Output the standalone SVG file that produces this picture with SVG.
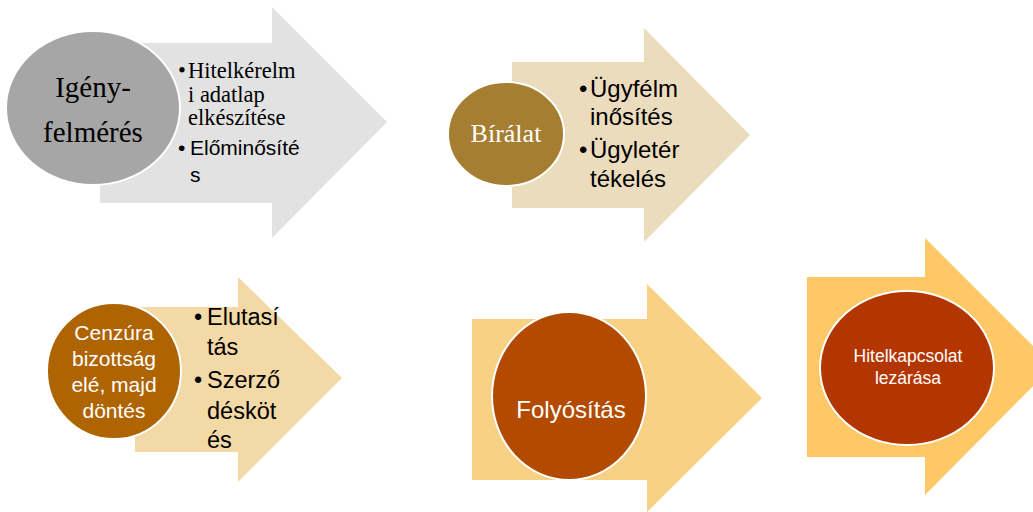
<svg xmlns="http://www.w3.org/2000/svg" width="1033" height="512" viewBox="0 0 1033 512">
<style>
.circ{stroke:#ffffff;stroke-width:2}
.serif{font-family:"Liberation Serif","Times New Roman",serif}
.sans{font-family:"Liberation Sans",Arial,sans-serif}
.blk{fill:#000000}
.wht{fill:#ffffff}
</style>
<rect width="1033" height="512" fill="#ffffff"/>
<g id="step1">
<polygon points="100,43 272,43 272,7 387,122 272,238 272,203 100,203" fill="#e2e2e2"/>
<ellipse class="circ" cx="93" cy="108" rx="87" ry="77" fill="#a6a6a6"/>
<text class="serif blk" font-size="29" text-anchor="middle"><tspan x="93" y="97">Igény-</tspan><tspan x="93" y="142">felmérés</tspan></text>
<text class="serif blk" font-size="22.5"><tspan x="178" y="78">•</tspan><tspan x="188" y="78">Hitelkérelm</tspan><tspan x="188" y="102">i adatlap</tspan><tspan x="188" y="125">elkészítése</tspan></text>
<text class="sans blk" font-size="21"><tspan x="178" y="155">•</tspan><tspan x="190" y="155">Előminősíté</tspan><tspan x="190" y="182">s</tspan></text>
</g>
<g id="step2">
<polygon points="512,62 644,62 644,28 750,135 644,242 644,208 512,208" fill="#ecdcbe"/>
<ellipse class="circ" cx="506" cy="134" rx="58" ry="52" fill="#a67e32"/>
<text class="serif wht" font-size="26" text-anchor="middle" x="506" y="142">Bírálat</text>
<text class="sans blk" font-size="24"><tspan x="579" y="97">•</tspan><tspan x="590" y="97">Ügyfélm</tspan><tspan x="590" y="125">inősítés</tspan><tspan x="579" y="158">•</tspan><tspan x="590" y="158">Ügyletér</tspan><tspan x="590" y="187">tékelés</tspan></text>
</g>
<g id="step3">
<polygon points="135,307 238,307 238,277 342,378 238,482 238,452 135,452" fill="#f3d9a5"/>
<ellipse class="circ" cx="114" cy="371" rx="67" ry="68" fill="#ae6400"/>
<text class="sans wht" font-size="21" text-anchor="middle"><tspan x="114" y="340">Cenzúra</tspan><tspan x="114" y="366">bizottság</tspan><tspan x="114" y="392">elé, majd</tspan><tspan x="114" y="418">döntés</tspan></text>
<text class="sans blk" font-size="23.5"><tspan x="194" y="325">•</tspan><tspan x="207" y="325">Elutasí</tspan><tspan x="207" y="355">tás</tspan><tspan x="194" y="388">•</tspan><tspan x="207" y="388">Szerző</tspan><tspan x="207" y="419">désköt</tspan><tspan x="207" y="448">és</tspan></text>
</g>
<g id="step4">
<polygon points="472,319 647,319 647,284 762,398 647,512 647,480 472,480" fill="#f8d184"/>
<ellipse class="circ" cx="569" cy="396" rx="77" ry="84" fill="#b24b00"/>
<text class="sans wht" font-size="24" text-anchor="middle" x="571" y="418">Folyósítás</text>
</g>
<g id="step5">
<polygon points="807,277 925,277 925,238 1053,366 925,495 925,457 807,457" fill="#fec866"/>
<ellipse class="circ" cx="907" cy="368" rx="87" ry="77" fill="#b33600"/>
<text class="sans wht" font-size="17.5" text-anchor="middle"><tspan x="908" y="362">Hitelkapcsolat</tspan><tspan x="908" y="384">lezárása</tspan></text>
</g>
<g id="connectors"/>
</svg>
